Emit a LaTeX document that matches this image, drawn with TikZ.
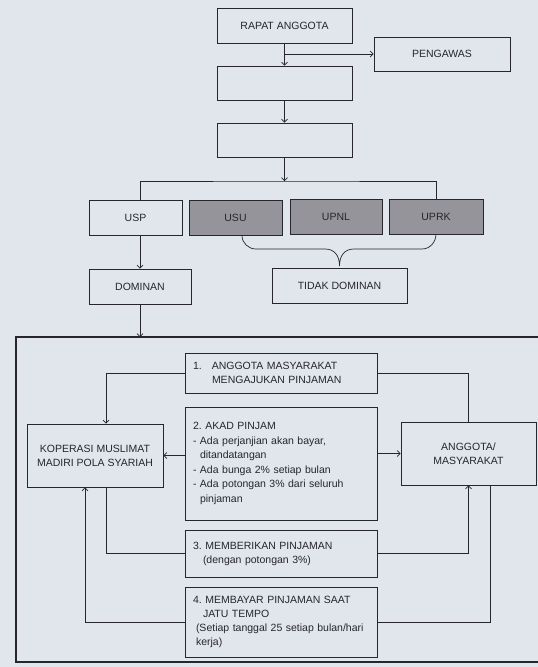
\documentclass[tikz,border=0pt]{standalone}
\usepackage{fontspec}
\setmainfont{Liberation Sans}
\usetikzlibrary{arrows.meta}
\definecolor{bg}{HTML}{E1E5EC}
\definecolor{ink}{HTML}{26262C}
\definecolor{shade}{HTML}{94949A}
\begin{document}
\begin{tikzpicture}[x=1pt,y=-1pt,
  box/.style={draw=ink, line width=0.8pt, inner sep=0pt, align=center,
    font=\fontsize{10.5}{14}\selectfont\frenchspacing, text=ink},
  graybox/.style={box, fill=shade},
  txtbox/.style={box, align=left, inner xsep=8pt, text width=176pt},
  link/.style={draw=ink, line width=0.7pt},
  arr/.style={link, -{Straight Barb[length=3pt,width=6pt]}},
]
\fill[bg] (0,0) rectangle (538,667);
\useasboundingbox (0,0) rectangle (538,667);

% top chain
\node[box, minimum width=135pt, minimum height=35pt] (rapat) at (284.5,25.5) {RAPAT ANGGOTA};
\node[box, minimum width=136pt, minimum height=34pt] (peng) at (442,54) {PENGAWAS};
\node[box, minimum width=135pt, minimum height=34pt] (b2) at (284.5,83) {};
\node[box, minimum width=135pt, minimum height=34pt] (b3) at (284.5,140) {};
\coordinate (hub) at (284.5,181);

% units
\node[box, minimum width=93pt, minimum height=35pt] (usp) at (135.5,217.5) {USP};
\node[graybox, minimum width=93pt, minimum height=35pt] (usu) at (235.5,217.5) {USU};
\node[graybox, minimum width=92pt, minimum height=35pt] (upnl) at (336,216.5) {UPNL};
\node[graybox, minimum width=94pt, minimum height=35pt] (uprk) at (436,216.5) {UPRK};
\node[box, minimum width=102pt, minimum height=35pt] (dom) at (140,286.5) {DOMINAN};
\node[box, minimum width=135pt, minimum height=35pt] (tidak) at (339.5,285.5) {TIDAK DOMINAN};

% big frame
\coordinate (ftop) at (16,337);
\draw[ink, line width=1.4pt] (545,337) -- (ftop) -- (16,662) -- (545,662);

% inner
\node[txtbox, minimum height=40pt] (k1) at (281,373)
  {1.\hspace{10pt}ANGGOTA MASYARAKAT\\\hspace*{19pt}MENGAJUKAN PINJAMAN};
\node[txtbox, minimum height=113pt, font=\fontsize{10.5}{14.5}\selectfont\frenchspacing] (k2) at (281,463.5)
  {2. AKAD PINJAM\\
   - Ada perjanjian akan bayar,\\
   \hspace*{7pt}ditandatangan\\
   - Ada bunga 2\% setiap bulan\\
   - Ada potongan 3\% dari seluruh\\
   \hspace*{7pt}pinjaman};
\node[txtbox, minimum height=47pt] (k3) at (281,553.5)
  {3. MEMBERIKAN PINJAMAN\\\hspace*{10pt}(dengan potongan 3\%)};
\node[txtbox, minimum height=70pt] (k4) at (281,622)
  {4. MEMBAYAR PINJAMAN SAAT\\\hspace*{10pt}JATU TEMPO\\\hspace*{3pt}(Setiap tanggal 25 setiap bulan/hari\\\hspace*{3pt}kerja)};
\node[box, minimum width=136pt, minimum height=63pt] (kop) at (95,455.5)
  {KOPERASI MUSLIMAT\\MADIRI POLA SYARIAH};
\node[box, minimum width=135pt, minimum height=63pt] (ang) at (468.5,453.5)
  {ANGGOTA/\\MASYARAKAT};

% top connectors
\draw[arr] (rapat.south) -- (b2.north);
\draw[arr] (rapat.south |- peng.west) -- (peng.west);
\draw[arr] (b2.south) -- (b3.north);
\draw[arr] (b3.south) -- (hub);
\draw[link] (dom.north |- usp.north) |- (hub) -| (uprk.north);
\draw[link] (242,235.5) to[out=-90,in=180] (256,249) -- (325,249)
  .. controls (334,249) and (339.5,255) .. (339.5,266)
  .. controls (339.5,255) and (345,249) .. (354,249)
  -- (422,249) to[out=0,in=-90] (436,234);
\draw[arr] (dom.north |- usp.south) -- (dom.north);
\draw[arr] (dom.south) -- (dom.south |- ftop);

% inner connectors
\draw[arr] (k1.west) -| ([xshift=11pt]kop.north);
\draw[link] (k1.east) -| (ang.north);
\draw[arr] (k2.west |- kop.east) -- (kop.east);
\draw[arr] (k2.east |- ang.west) -- (ang.west);
\draw[link] ([xshift=11pt]kop.south) |- (k3.west);
\draw[arr] (k3.east) -| (ang.south);
\draw[link] ([xshift=21.5pt]ang.south) |- (k4.east);
\draw[arr] (k4.west) -| ([xshift=-10pt]kop.south);
\end{tikzpicture}
\end{document}
